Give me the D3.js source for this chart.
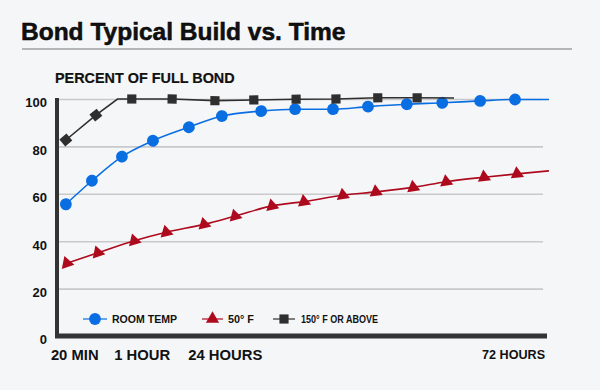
<!DOCTYPE html>
<html>
<head>
<meta charset="utf-8">
<script src="https://cdn.jsdelivr.net/npm/d3@7"></script>
<style>
    body { margin: 0; background: #f5f6f8; }
    svg text { font-family: "Liberation Sans", Arial, Helvetica, sans-serif; font-weight: bold; fill: #111; }
</style>
</head>
<body>
<div id="svg-container"></div>
<script>
// positie op de tijdlijn (0 = y-as, 100 = einde van de lijnen) en percentage hechting
const roomTempTime = [1.8, 7.1, 13.2, 19.5, 26.8, 33.5, 41.5, 48.4, 56.1, 63.2, 71.1, 78.3, 86, 93.1, 100]
const roomTempBond = [55.6, 65.5, 75.7, 82.4, 88.1, 92.8, 94.9, 95.7, 95.7, 96.8, 97.8, 98.4, 99.2, 99.8, 99.8]
const roomTempNoMarker = [14]

const fiftyTime = [2, 8.3, 15.7, 22.2, 29.9, 36.2, 43.7, 50.2, 58.1, 64.8, 72.4, 79.1, 86.8, 93.5, 100]
const fiftyBond = [30.7, 35.1, 40.2, 43.8, 47.1, 50.6, 54.9, 56.7, 59.4, 60.8, 62.7, 65.1, 67, 68.4, 69.7]
const fiftyNoMarker = [14]

const hotTime = [1.8, 7.9, 12.3, 15.2, 23.4, 32.1, 40, 48.6, 56.7, 65.2, 73.2, 80.7]
const hotBond = [82.7, 93.2, 100, 100, 100, 99.3, 99.6, 99.9, 100, 100.5, 100.5, 100.4]
const hotNoMarker = [2, 11]

const seriesNames = ['ROOM TEMP', '50° F', '150° F OR ABOVE']

const yTicks = [0, 20, 40, 60, 80, 100]
const xTickLabels = ['20 MIN', '1 HOUR', '24 HOURS', '72 HOURS']
const xTickTime = [3.5, 17.2, 34.1, 92.7]

const width = 600
const height = 390

const svg = d3.select('#svg-container')
    .append('svg').attr('width', width).attr('height', height)

svg.append('rect').attr('width', width).attr('height', height).attr('fill', '#f5f6f8')

//titel + lijn eronder
svg.append('text')
    .attr('x', 21).attr('y', 40)
    .style('font-size', '24.5px')
    .attr('stroke', '#000').attr('stroke-width', 0.5)
    .text('Bond Typical Build vs. Time')
svg.append('line')
    .attr('x1', 22).attr('x2', 572).attr('y1', 49).attr('y2', 49)
    .attr('stroke', '#777').attr('stroke-width', 1.2)

svg.append('text')
    .attr('x', 55).attr('y', 82.5)
    .style('font-size', '14.4px')
    .attr('stroke', '#111').attr('stroke-width', 0.2)
    .text('PERCENT OF FULL BOND')

//schalen
const xScale = d3.scaleLinear().domain([0, 100]).range([57, 549])
const yScale = d3.scaleLinear().domain([0, 100]).range([336, 99])

//gridlijnen + y labels
const yAxis = d3.axisLeft(yScale)
    .tickValues(yTicks)
    .tickSize(-(543 - 57))
    .tickPadding(10)
const yAxisG = svg.append('g')
    .attr('transform', `translate(57, 0)`)
    .call(yAxis)
yAxisG.selectAll('.domain').remove()
yAxisG.selectAll('.tick line')
    .attr('stroke', '#c9c9cb').attr('stroke-width', 1.6)
yAxisG.selectAll('.tick').filter(d => d === 0).select('line').remove()
yAxisG.selectAll('.tick text')
    .style('font-size', '13px')
    .attr('dy', '0.6em')
    .attr('fill', '#111')

//x labels
const xAxis = d3.axisBottom(xScale)
    .tickValues(xTickTime)
    .tickFormat((d, i) => xTickLabels[i])
    .tickSize(0)
const xAxisG = svg.append('g')
    .attr('transform', `translate(0, 336)`)
    .call(xAxis)
xAxisG.selectAll('.domain').remove()
xAxisG.selectAll('.tick text')
    .style('font-size', (d, i) => i === 3 ? '12.6px' : '14.8px')
    .attr('y', (d, i) => i === 3 ? 14 : 13)
    .attr('dy', '0.71em')
    .attr('fill', '#111')

//assen
svg.append('line')
    .attr('x1', 57).attr('x2', 57).attr('y1', 98).attr('y2', 338)
    .attr('stroke', '#333').attr('stroke-width', 4)
svg.append('line')
    .attr('x1', 55).attr('x2', 547).attr('y1', 336).attr('y2', 336)
    .attr('stroke', '#333').attr('stroke-width', 5)

const series = [
    { name: seriesNames[0], time: roomTempTime, bond: roomTempBond, skip: roomTempNoMarker,
      color: '#0a6ee3', symbol: d3.symbolCircle, size: 110, curve: d3.curveMonotoneX },
    { name: seriesNames[1], time: fiftyTime, bond: fiftyBond, skip: fiftyNoMarker,
      color: '#ad0a1e', symbol: d3.symbolTriangle, size: 76, curve: d3.curveMonotoneX },
    { name: seriesNames[2], time: hotTime, bond: hotBond, skip: hotNoMarker,
      color: '#2f2f2f', symbol: d3.symbolSquare, size: 84, curve: d3.curveLinear }
]

const line = d3.line()

series.forEach(s => {
    const pts = s.time.map((t, i) => [xScale(t), yScale(s.bond[i])])
    svg.append('path')
        .attr('d', line.curve(s.curve)(pts))
        .attr('fill', 'none')
        .attr('stroke', s.color)
        .attr('stroke-width', 1.6)

    //markers draaien mee met de lijn
    const marks = pts.map((p, i) => {
        const a = pts[Math.max(0, i - 1)]
        const b = pts[Math.min(pts.length - 1, i + 1)]
        const angle = Math.atan2(b[1] - a[1], b[0] - a[0]) * 180 / Math.PI
        return { p, angle, i }
    }).filter(m => !s.skip.includes(m.i))

    svg.selectAll(null)
        .data(marks)
        .enter().append('path')
        .attr('d', d3.symbol().type(s.symbol).size(s.size))
        .attr('transform', d => `translate(${d.p[0]}, ${d.p[1]}) rotate(${d.angle})`)
        .attr('fill', s.color)
})

//legenda
const legendX = [83, 202, 273]
const legendLen = [24, 21, 22]
const legendTextX = [112, 228, 301]
const legendTextW = [65, 26, 77]
series.forEach((s, i) => {
    const g = svg.append('g')
    g.append('line')
        .attr('x1', legendX[i]).attr('x2', legendX[i] + legendLen[i])
        .attr('y1', 319).attr('y2', 319)
        .attr('stroke', s.color).attr('stroke-opacity', 0.75).attr('stroke-width', 1.6)
    g.append('path')
        .attr('d', d3.symbol().type(s.symbol).size(s.size))
        .attr('transform', `translate(${legendX[i] + legendLen[i] / 2}, 319)`)
        .attr('fill', s.color)
    g.append('text')
        .attr('x', legendTextX[i]).attr('y', 322.8)
        .style('font-size', '10.3px')
        .attr('textLength', legendTextW[i])
        .attr('lengthAdjust', 'spacingAndGlyphs')
        .text(s.name)
})
</script>
</body>
</html>
